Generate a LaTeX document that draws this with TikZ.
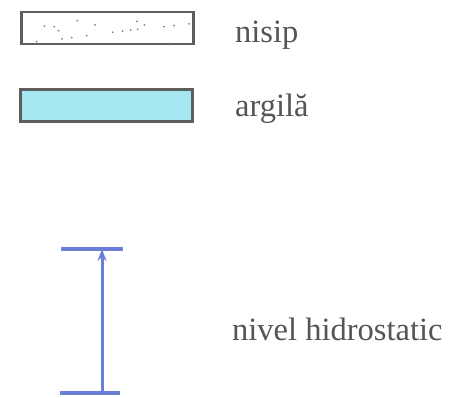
\documentclass[tikz,border=0pt]{standalone}
\usepackage{fontspec}
\setmainfont{Liberation Serif}
\usetikzlibrary{arrows.meta}
\definecolor{boxgray}{HTML}{5E5E5E}
\definecolor{txtgray}{HTML}{555555}
\definecolor{clay}{HTML}{A6E6F0}
\definecolor{lvlblue}{HTML}{6A7FD8}
\tikzset{
  legendbox/.style={draw=boxgray, line width=2.6pt, minimum width=172pt, minimum height=32pt, inner sep=0pt},
  lbl/.style={anchor=base west, text=txtgray, font=\fontsize{32.5}{36}\selectfont, inner sep=0pt},
  sanddot/.style={fill=gray, draw=none},
  bar/.style={draw=lvlblue, line width=3.6pt},
  lvl/.style={draw=lvlblue, line width=3pt, -{Stealth[length=12pt,width=9pt]}}
}
\begin{document}
\begin{tikzpicture}[x=1pt,y=-1pt]
\useasboundingbox (0,0) rectangle (450,398);
\node[legendbox] (sand) at (107.5,28) {};
\node[legendbox, fill=clay] (clay) at (106.5,105.5) {};
\foreach \px/\py in {133/78,163/80,176/92,186/117,215/113,232/62,260/107,285/75,338/97,368/93,392/90,411/64,413/88,433/75,492/80,522/77,567/72,110/125,510/130}
  \fill[sanddot] (\px/3,\py/3) circle (1pt);
\node[lbl] (tsand) at (235,43) {nisip};
\node[lbl] (tclay) at (235,117) {argilă};
\node[lbl] (tlvl) at (232,340) {nivel hidrostatic};
\coordinate (topL) at (61,249);
\coordinate (topR) at (123,249);
\coordinate (botL) at (60,393);
\coordinate (botR) at (120,393);
\coordinate (top) at (102,249);
\coordinate (bot) at (102,393);
\draw[bar] (topL) -- (topR);
\draw[bar] (botL) -- (botR);
\draw[lvl] (bot) -- (top);
\end{tikzpicture}
\end{document}
